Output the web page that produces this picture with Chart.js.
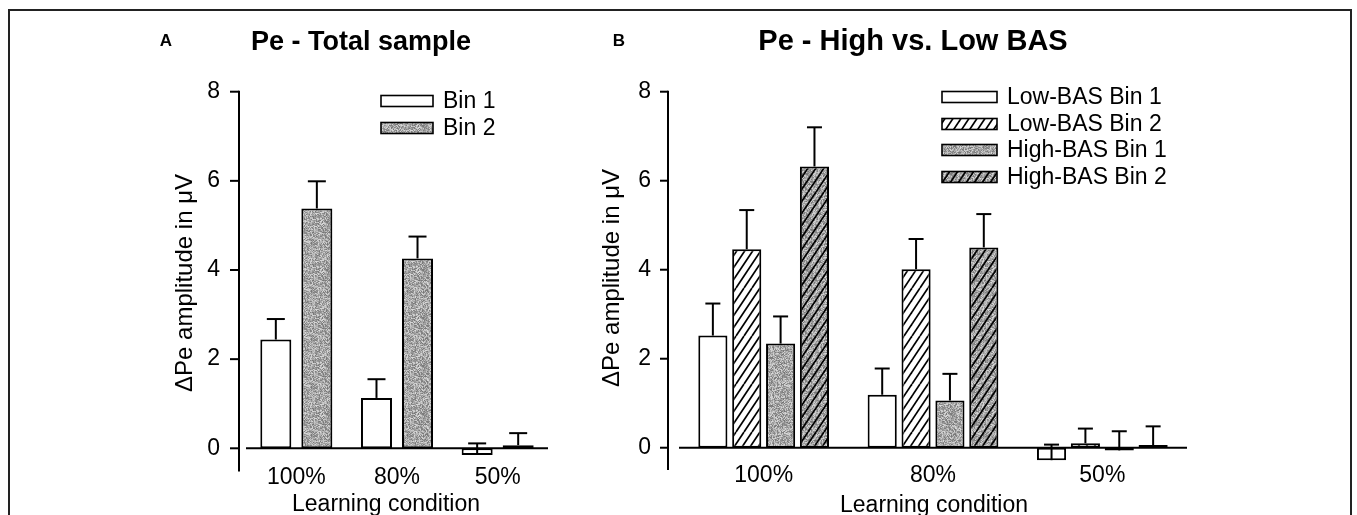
<!DOCTYPE html>
<html>
<head>
<meta charset="utf-8">
<script src="https://cdn.jsdelivr.net/npm/chart.js@4.4.1/dist/chart.umd.min.js"></script>
<style>
  html, body { margin: 0; padding: 0; background: #fff; overflow: hidden; }
  #page { position: relative; width: 1357px; height: 515px; overflow: hidden; }
  #frame { position: absolute; left: 8px; top: 9px; width: 1340px; height: 560px; border: 2px solid #222; }
  canvas { position: absolute; left: 0; top: 0; }
</style>
</head>
<body>
<div id="page">
  <div id="frame"></div>
  <canvas id="chartA" width="1357" height="530" style="width:1357px;height:530px"></canvas>
  <canvas id="chartB" width="1357" height="530" style="width:1357px;height:530px"></canvas>
</div>
<script>
// data (ΔPe amplitude in µV, error = upper SE bar length)
const categories = ['100%', '80%', '50%'];
const yTicks = [0, 2, 4, 6, 8];

// Panel A - total sample
const totalBin1 = [2.44, 1.13, -0.15];
const totalBin1Err = [0.46, 0.42, 0.26];
const totalBin2 = [5.38, 4.26, 0.07];
const totalBin2Err = [0.61, 0.49, 0.27];

// Panel B - high vs low BAS
const lowBin1 = [2.52, 1.19, -0.28];
const lowBin1Err = [0.72, 0.59, 0.35];
const lowBin2 = [4.46, 4.01, 0.10];
const lowBin2Err = [0.88, 0.68, 0.33];
const highBin1 = [2.34, 1.06, -0.06];
const highBin1Err = [0.61, 0.60, 0.43];
const highBin2 = [6.32, 4.50, 0.06];
const highBin2Err = [0.88, 0.75, 0.42];

const FONT = '"Liberation Sans", Arial, Helvetica, sans-serif';

// fill textures: stippled grey and diagonal hatching
function makePattern(stipple, hatch) {
  const c = document.createElement('canvas');
  c.width = c.height = 48;
  const g = c.getContext('2d');
  if (stipple) {
    const img = g.createImageData(48, 48);
    let s = 987654;
    for (let i = 0; i < 48 * 48; i++) {
      s = (s * 1103515245 + 12345) & 0x7fffffff;
      const v = 118 + ((s >> 8) % 100);
      img.data[i * 4] = img.data[i * 4 + 1] = img.data[i * 4 + 2] = v;
      img.data[i * 4 + 3] = 255;
    }
    g.putImageData(img, 0, 0);
  } else {
    g.fillStyle = '#fff';
    g.fillRect(0, 0, 48, 48);
  }
  if (hatch) {
    g.strokeStyle = '#000';
    g.lineWidth = 1.7;
    for (let k = -48; k <= 64; k += 8) {
      g.beginPath();
      g.moveTo(k, 48);
      g.lineTo(k + 32, 0);
      g.stroke();
    }
  }
  return g.createPattern(c, 'repeat');
}
const stippleFill = makePattern(true, false);
const hatchFill = makePattern(false, true);
const stippleHatchFill = makePattern(true, true);

function seg(ctx, x1, y1, x2, y2) {
  ctx.beginPath();
  ctx.moveTo(x1, y1);
  ctx.lineTo(x2, y2);
  ctx.stroke();
}

// axes lines, error bars, titles and legend
const panelDeco = {
  id: 'panelDeco',
  afterDatasetsDraw(chart, args, o) {
    const { ctx, chartArea, scales: { y } } = chart;
    ctx.save();
    ctx.strokeStyle = '#000';
    ctx.fillStyle = '#000';
    ctx.lineWidth = 2;

    // zero line
    const yz = y.getPixelForValue(0);
    seg(ctx, chartArea.left, yz, chartArea.right, yz);

    // error bars (upper only)
    chart.data.datasets.forEach((ds, i) => {
      chart.getDatasetMeta(i).data.forEach((bar, j) => {
        const y0 = y.getPixelForValue(ds.data[j]);
        const y1 = y.getPixelForValue(ds.data[j] + ds.errors[j]);
        seg(ctx, bar.x, y0, bar.x, y1);
        seg(ctx, bar.x - o.cap / 2, y1, bar.x + o.cap / 2, y1);
      });
    });

    // y axis with tick marks (axis runs a little below the plotted range)
    const ax = chartArea.left - o.axisGap;
    seg(ctx, ax, y.getPixelForValue(y.max) - 1, ax, y.getPixelForValue(o.axisMin));
    y.ticks.forEach(t => {
      const py = y.getPixelForValue(t.value);
      seg(ctx, ax - o.tickLen, py, ax, py);
    });

    // panel letter and title
    ctx.textAlign = 'center';
    ctx.textBaseline = 'alphabetic';
    ctx.font = 'bold 17px ' + FONT;
    ctx.fillText(o.letter, o.letterX, 46);
    ctx.font = 'bold ' + o.titleSize + 'px ' + FONT;
    ctx.fillText(o.title, o.titleX, 50);

    // axis titles
    ctx.font = '23px ' + FONT;
    ctx.fillText('Learning condition', o.xTitleX, o.xTitleY);
    ctx.save();
    ctx.translate(o.yTitleX, o.yTitleY);
    ctx.rotate(-Math.PI / 2);
    ctx.textBaseline = 'middle';
    ctx.font = '24px ' + FONT;
    ctx.fillText('\u0394Pe amplitude in \u03bcV', 0, 0);
    ctx.restore();

    // legend
    ctx.textAlign = 'left';
    ctx.textBaseline = 'middle';
    ctx.font = '23px ' + FONT;
    ctx.lineWidth = 1.6;
    chart.data.datasets.forEach((ds, i) => {
      const ly = o.legendY[i];
      ctx.fillStyle = ds.backgroundColor;
      ctx.fillRect(o.legendX, ly - 5.5, o.legendW, 11);
      ctx.strokeRect(o.legendX, ly - 5.5, o.legendW, 11);
      ctx.fillStyle = '#000';
      ctx.fillText(ds.label, o.legendX + o.legendW + 10, ly + 1);
    });
    ctx.restore();
  }
};

function barSet(label, data, errors, fill) {
  return {
    label, data, errors,
    backgroundColor: fill,
    borderColor: '#000',
    borderWidth: 2,
    borderSkipped: false
  };
}

function makeOptions(p) {
  return {
    responsive: false,
    animation: false,
    devicePixelRatio: 1,
    layout: { padding: { left: p.left - 60, right: 1357 - p.right, top: 91.7, bottom: 0 } },
    datasets: { bar: { categoryPercentage: p.catPct, barPercentage: p.barPct } },
    plugins: { legend: { display: false }, tooltip: { enabled: false }, panelDeco: p.deco },
    scales: {
      x: {
        grid: { display: false, drawTicks: false },
        border: { display: false },
        ticks: { color: '#000', font: { family: FONT, size: 23, lineHeight: 1.2 }, padding: p.xPad },
        afterFit: s => { s.height = 530 - p.bottom; }
      },
      y: {
        min: -0.35,
        max: 8,
        grid: { display: false, drawTicks: false },
        border: { display: false },
        afterBuildTicks: s => { s.ticks = yTicks.map(v => ({ value: v })); },
        ticks: { color: '#000', font: { family: FONT, size: 23 }, padding: p.yPad },
        afterFit: s => { s.width = 60; }
      }
    }
  };
}

new Chart(document.getElementById('chartA'), {
  type: 'bar',
  data: {
    labels: categories,
    datasets: [
      barSet('Bin 1', totalBin1, totalBin1Err, '#fff'),
      barSet('Bin 2', totalBin2, totalBin2Err, stippleFill)
    ]
  },
  options: makeOptions({
    left: 246, right: 548, bottom: 463.9,
    catPct: 0.815, barPct: 0.756, xPad: -0.5, yPad: 26,
    deco: {
      cap: 18, axisGap: 7, tickLen: 9, axisMin: -0.52,
      letter: 'A', letterX: 166, title: 'Pe - Total sample', titleX: 361, titleSize: 27,
      xTitleX: 386, xTitleY: 511, yTitleX: 185, yTitleY: 283,
      legendX: 381, legendW: 52, legendY: [101, 128]
    }
  }),
  plugins: [panelDeco]
});

new Chart(document.getElementById('chartB'), {
  type: 'bar',
  data: {
    labels: categories,
    datasets: [
      barSet('Low-BAS Bin 1', lowBin1, lowBin1Err, '#fff'),
      barSet('Low-BAS Bin 2', lowBin2, lowBin2Err, hatchFill),
      barSet('High-BAS Bin 1', highBin1, highBin1Err, stippleFill),
      barSet('High-BAS Bin 2', highBin2, highBin2Err, stippleHatchFill)
    ]
  },
  options: makeOptions({
    left: 679, right: 1187, bottom: 463.3,
    catPct: 0.8, barPct: 0.86, xPad: -1.5, yPad: 28,
    deco: {
      cap: 15, axisGap: 11, tickLen: 8, axisMin: -0.5,
      letter: 'B', letterX: 619, title: 'Pe - High vs. Low BAS', titleX: 913, titleSize: 29,
      xTitleX: 934, xTitleY: 512, yTitleX: 612, yTitleY: 278,
      legendX: 942, legendW: 55, legendY: [97, 124, 150, 177]
    }
  }),
  plugins: [panelDeco]
});
</script>
</body>
</html>
